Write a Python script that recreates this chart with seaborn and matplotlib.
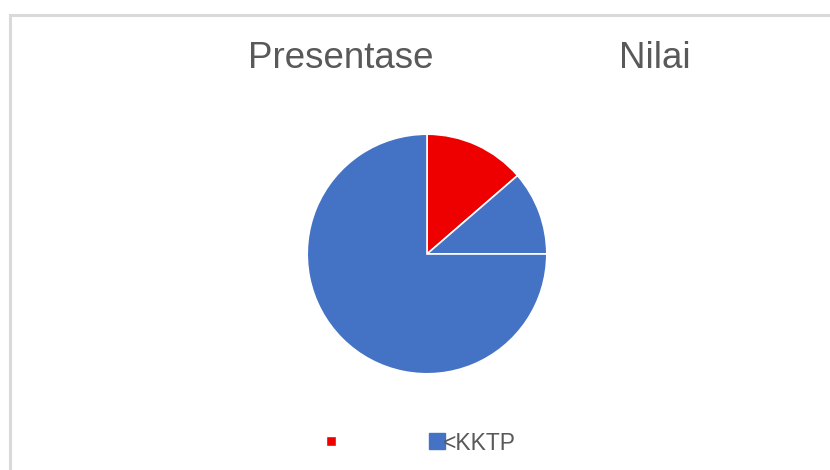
import matplotlib
matplotlib.use("Agg")
import matplotlib.pyplot as plt
from matplotlib.lines import Line2D
from matplotlib.patches import Rectangle
import seaborn as sns

# slice values
labels = ["", "<KKTP", ""]
values = [6, 5, 33]
colors = ["#EE0000", "#4472C4", "#4472C4"]

sns.set_theme(style="white")
plt.rcParams['font.family'] = ['Liberation Sans', 'DejaVu Sans']

fig = plt.figure(figsize=(8.3, 4.7), dpi=100)
W, H = 830, 470

# chart area border (only top and left visible)
fig.patches.append(Rectangle((10 / W, -0.1), 1.2, (470 - 15) / H + 0.1,
                             transform=fig.transFigure, fill=False,
                             edgecolor="#D9D9D9", linewidth=2.2))

# title
fig.text(341 / W, 1 - 68 / H, "Presentase", ha="center", va="baseline",
         fontsize=26.5, color="#595959")
fig.text(655 / W, 1 - 68 / H, "Nilai", ha="center", va="baseline",
         fontsize=26.5, color="#595959")

# pie
ax = fig.add_axes([306 / W, 95 / H, 242 / W, 242 / H])
ax.pie(values, colors=colors, startangle=90, counterclock=False,
       radius=1.0, wedgeprops=dict(edgecolor="white", linewidth=1.2))
ax.set_xlim(-1.01, 1.01)
ax.set_ylim(-1.01, 1.01)
ax.set_aspect("equal")
ax.axis("off")

# legend
handles = [Line2D([], [], marker="s", linestyle="none", markersize=7.5,
                  markerfacecolor=colors[0], markeredgecolor="white"),
           Line2D([], [], marker="s", linestyle="none", markersize=11.5,
                  markerfacecolor=colors[1], markeredgecolor=colors[1])]
leg = fig.legend(handles, labels[:2], loc="center left", ncol=2,
                 bbox_to_anchor=(324 / W, 1 - 443 / H), frameon=False,
                 borderpad=0, borderaxespad=0,
                 fontsize=16.5, handlelength=0.6, handletextpad=-0.05,
                 columnspacing=4.1, labelcolor="#595959")

fig.savefig("out.png", dpi=100)
